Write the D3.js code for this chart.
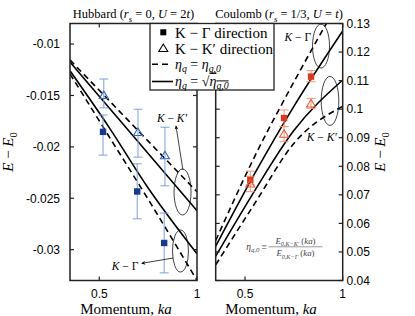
<!DOCTYPE html>
<html>
<head>
<meta charset="utf-8">
<script src="https://cdn.jsdelivr.net/npm/d3@7"></script>
<style>
  body { margin: 0; background: #fff; }
  svg { display: block; }
</style>
</head>
<body>
<svg id="chart" width="415" height="316"></svg>
<script>
// ─── Data ─────────────────────────────────────────────────────────────────
const kaGrid = [0.35, 0.55, 0.75, 1.0];

// Hubbard panel model curves
const hubKKdash  = [-0.01155, -0.01549, -0.01944, -0.02437];
const hubKKsolid = [-0.01175, -0.01620, -0.02065, -0.02621];
const hubKGsolid = [-0.0126, -0.0181, -0.0240, -0.0304];
const hubKGdash  = [-0.0129, -0.0190, -0.0251, -0.0330];

// Hubbard panel measured points
const hubKa   = [0.519, 0.694, 0.832];
const hubKG   = [-0.01854, -0.02434, -0.02935];
const hubKGlo = [-0.0208, -0.0270, -0.03226];
const hubKGhi = [-0.0169, -0.02165, -0.02644];
const hubKK   = [-0.0150, -0.0186, -0.02087];
const hubKKlo = [-0.0162, -0.0210, -0.02379];
const hubKKhi = [-0.0134, -0.01634, -0.01809];

// Coulomb panel model curves
const couKGdash  = [0.054, 0.0835, 0.1095, 0.140];
const couKGsolid = [0.052, 0.0775, 0.1010, 0.1274];
const couKKsolid = [0.0485, 0.0715, 0.0925, 0.1102];
const couKKdash  = [0.0455, 0.067, 0.088, 0.101];

// Coulomb panel measured points
const couKa   = [0.527, 0.700, 0.838];
const couKG   = [0.0752, 0.0969, 0.1114];
const couKGlo = [0.0735, 0.0939, 0.1096];
const couKGhi = [0.0783, 0.0997, 0.1135];
const couKK   = [0.0738, 0.0912, 0.1018];
const couKKlo = [0.0711, 0.0886, 0.1003];
const couKKhi = [0.0765, 0.0939, 0.1038];

// ticks
const xTicks      = [0.5, 1];
const xTickLabels = ["0.5", "1"];
const hubYTicks   = [-0.01, -0.015, -0.02, -0.025, -0.03];
const hubYLabels  = ["-0.01", "-0.015", "-0.02", "-0.025", "-0.03"];
const couYTicks   = [0.04, 0.05, 0.06, 0.07, 0.08, 0.09, 0.10, 0.11, 0.12, 0.13];
const couYLabels  = ["0.04", "0.05", "0.06", "0.07", "0.08", "0.09", "0.1", "0.11", "0.12", "0.13"];

// ─── Layout ───────────────────────────────────────────────────────────────
const svg = d3.select("#chart");
const plotTop = 23.5, plotBottom = 280.5;
const serif = "'Liberation Serif', 'DejaVu Serif', serif";
const sans  = "'Liberation Sans', Arial, sans-serif";

const xL = d3.scaleLinear().domain([0.35, 1]).range([70, 197]);
const xR = d3.scaleLinear().domain([0.35, 1]).range([215.7, 342.7]);
const yL = d3.scaleLinear().domain([-0.033, -0.008]).range([plotBottom, plotTop]);
const yR = d3.scaleLinear().domain([0.04, 0.13]).range([plotBottom, plotTop]);

// rich text helper: parts = [{t, i, sub}]
function rich(sel, parts, size) {
  let shift = 0;
  parts.forEach(p => {
    const target = p.sub ? size * 0.28 : 0;
    const ts = sel.append("tspan").text(p.t).attr("dy", target - shift);
    shift = target;
    if (p.sub) ts.attr("font-size", size * 0.7);
    if (p.i) ts.attr("font-style", "italic");
    if (p.over) ts.attr("text-decoration", "overline");
  });
  return sel;
}

const defs = svg.append("defs");
defs.append("marker")
    .attr("id", "arrow")
    .attr("viewBox", "0 0 10 10")
    .attr("refX", 9).attr("refY", 5)
    .attr("markerWidth", 6).attr("markerHeight", 5)
    .attr("orient", "auto")
  .append("path")
    .attr("d", "M0,0 L10,5 L0,10 L3,5 Z")
    .attr("fill", "#000");

function panel(id, x, y, lines, pts, col) {
  const g = svg.append("g");
  defs.append("clipPath").attr("id", "clip" + id)
    .append("rect")
      .attr("x", x.range()[0]).attr("y", plotTop)
      .attr("width", x.range()[1] - x.range()[0]).attr("height", plotBottom - plotTop);

  const plot = g.append("g").attr("clip-path", `url(#clip${id})`);

  const line = d3.line()
    .x((d, i) => x(kaGrid[i]))
    .y(d => y(d))
    .curve(d3.curveMonotoneX);

  lines.forEach(l => {
    plot.append("path")
      .attr("d", line(l.v))
      .attr("fill", "none")
      .attr("stroke", "#000")
      .attr("stroke-width", 1.6)
      .attr("stroke-dasharray", l.dash ? "6,4" : null);
  });

  // error bars
  pts.forEach(s => {
    s.ka.forEach((k, i) => {
      const cx = x(k + s.off);
      plot.append("line")
        .attr("x1", cx).attr("x2", cx)
        .attr("y1", y(s.lo[i])).attr("y2", y(s.hi[i]))
        .attr("stroke", col.err).attr("stroke-width", 1);
      [s.lo[i], s.hi[i]].forEach(v => {
        plot.append("line")
          .attr("x1", cx - 4.5).attr("x2", cx + 4.5)
          .attr("y1", y(v)).attr("y2", y(v))
          .attr("stroke", col.err).attr("stroke-width", 1);
      });
    });
  });

  // markers
  pts.forEach(s => {
    s.ka.forEach((k, i) => {
      const cx = x(k + s.off), cy = y(s.v[i]);
      if (s.shape === "square") {
        plot.append("rect")
          .attr("x", cx - 3.2).attr("y", cy - 3.2)
          .attr("width", 6.4).attr("height", 6.4)
          .attr("fill", col.sq);
      } else {
        plot.append("path")
          .attr("d", `M${cx},${cy - 4.5} L${cx + 4.5},${cy + 3} L${cx - 4.5},${cy + 3} Z`)
          .attr("fill", "none")
          .attr("stroke", col.tri)
          .attr("stroke-width", 1.1);
      }
    });
  });

  // frame with inward ticks
  const [x0, x1] = x.range();
  g.append("rect")
    .attr("x", x0).attr("y", plotTop)
    .attr("width", x1 - x0).attr("height", plotBottom - plotTop)
    .attr("fill", "none").attr("stroke", "#222").attr("stroke-width", 1.5);

  xTicks.forEach(t => {
    g.append("line").attr("x1", x(t)).attr("x2", x(t))
      .attr("y1", plotBottom).attr("y2", plotBottom - 4).attr("stroke", "#222").attr("stroke-width", 1.2);
    g.append("line").attr("x1", x(t)).attr("x2", x(t))
      .attr("y1", plotTop).attr("y2", plotTop + 4).attr("stroke", "#222").attr("stroke-width", 1.2);
  });
  return g;
}

const hubCol = { err: "#7f9fd8", sq: "#173a8e", tri: "#3c64b8" };
const couCol = { err: "#f2937b", sq: "#d63b1f", tri: "#e65a3d" };

panel("L", xL, yL, [
  { v: hubKKdash,  dash: true },
  { v: hubKKsolid, dash: false },
  { v: hubKGsolid, dash: false },
  { v: hubKGdash,  dash: true }
], [
  { shape: "square",   ka: hubKa, off: 0,     v: hubKG, lo: hubKGlo, hi: hubKGhi },
  { shape: "triangle", ka: hubKa, off: 0.004, v: hubKK, lo: hubKKlo, hi: hubKKhi }
], hubCol);

panel("R", xR, yR, [
  { v: couKGdash,  dash: true },
  { v: couKGsolid, dash: false },
  { v: couKKsolid, dash: false },
  { v: couKKdash,  dash: true }
], [
  { shape: "square",   ka: couKa, off: 0, v: couKG, lo: couKGlo, hi: couKGhi },
  { shape: "triangle", ka: couKa, off: 0, v: couKK, lo: couKKlo, hi: couKKhi }
], couCol);

// y ticks and labels
hubYTicks.forEach((t, i) => {
  [[70, 74], [197, 193]].forEach(([a, b]) => {
    svg.append("line").attr("x1", a).attr("x2", b)
      .attr("y1", yL(t)).attr("y2", yL(t)).attr("stroke", "#222").attr("stroke-width", 1.2);
  });
  svg.append("text")
    .attr("x", 60).attr("y", yL(t) + 4.3)
    .attr("text-anchor", "end")
    .attr("font-family", sans).attr("font-size", 12)
    .text(hubYLabels[i]);
});
couYTicks.forEach((t, i) => {
  [[215.7, 219.7], [342.7, 338.7]].forEach(([a, b]) => {
    svg.append("line").attr("x1", a).attr("x2", b)
      .attr("y1", yR(t)).attr("y2", yR(t)).attr("stroke", "#222").attr("stroke-width", 1.2);
  });
  svg.append("text")
    .attr("x", 346.5).attr("y", yR(t) + 4.3)
    .attr("font-family", sans).attr("font-size", 12)
    .text(couYLabels[i]);
});

// x tick labels
[xL, xR].forEach(x => {
  xTicks.forEach((t, i) => {
    svg.append("text")
      .attr("x", x(t)).attr("y", 298)
      .attr("text-anchor", "middle")
      .attr("font-family", sans).attr("font-size", 12)
      .text(xTickLabels[i]);
  });
});

// x axis labels
[126, 271].forEach(cx => {
  rich(svg.append("text")
    .attr("x", cx).attr("y", 314)
    .attr("text-anchor", "middle")
    .attr("font-family", serif).attr("font-size", 15),
    [{ t: "Momentum, " }, { t: "ka", i: true }], 15);
});

// y axis labels
[[13, 152], [385, 152]].forEach(([cx, cy]) => {
  rich(svg.append("text")
    .attr("transform", `translate(${cx},${cy}) rotate(-90)`)
    .attr("text-anchor", "middle")
    .attr("font-family", serif).attr("font-size", 15),
    [{ t: "E", i: true }, { t: " − " }, { t: "E", i: true }, { t: "0", sub: true }], 15);
});

// titles
rich(svg.append("text")
  .attr("x", 133.5).attr("y", 18)
  .attr("text-anchor", "middle")
  .attr("font-family", serif).attr("font-size", 12.5),
  [{ t: "Hubbard (" }, { t: "r", i: true }, { t: "s", i: true, sub: true },
   { t: " = 0, " }, { t: "U", i: true }, { t: " = 2" }, { t: "t", i: true }, { t: ")" }], 12.5);

rich(svg.append("text")
  .attr("x", 279).attr("y", 18)
  .attr("text-anchor", "middle")
  .attr("font-family", serif).attr("font-size", 12.5),
  [{ t: "Coulomb (" }, { t: "r", i: true }, { t: "s", i: true, sub: true },
   { t: " = 1/3, " }, { t: "U", i: true }, { t: " = " }, { t: "t", i: true }, { t: ")" }], 12.5);

// ─── Annotations (ellipses, arrows, labels) ───────────────────────────────
const ellipses = [
  { x: xL, y: yL, ka: 0.926, v: -0.02439, rx: 8.5, ry: 23 },
  { x: xL, y: yL, ka: 0.9155, v: -0.03013, rx: 8, ry: 21 },
  { x: xR, y: yR, ka: 0.889, v: 0.1221, rx: 8.5, ry: 22 },
  { x: xR, y: yR, ka: 0.935, v: 0.1029, rx: 8.8, ry: 24.5 }
];
ellipses.forEach(e => {
  svg.append("ellipse")
    .attr("cx", e.x(e.ka)).attr("cy", e.y(e.v))
    .attr("rx", e.rx).attr("ry", e.ry)
    .attr("fill", "none").attr("stroke", "#111").attr("stroke-width", 0.8);
});

const arrows = [
  { x: xL, y: yL, from: [0.928, -0.02225], to: [0.8925, -0.01797] },
  { x: xL, y: yL, from: [0.8787, -0.03081], to: [0.717, -0.03133] }
];
arrows.forEach(a => {
  svg.append("line")
    .attr("x1", a.x(a.from[0])).attr("y1", a.y(a.from[1]))
    .attr("x2", a.x(a.to[0])).attr("y2", a.y(a.to[1]))
    .attr("stroke", "#111").attr("stroke-width", 0.8)
    .attr("marker-end", "url(#arrow)");
});

const notes = [
  { x: xL, y: yL, ka: 0.872, v: -0.01758, anchor: "middle", prime: true },
  { x: xL, y: yL, ka: 0.700, v: -0.03198, anchor: "end",    prime: false },
  { x: xR, y: yR, ka: 0.838, v: 0.1237, anchor: "end",      prime: false },
  { x: xR, y: yR, ka: 0.816, v: 0.0888, anchor: "start",    prime: true }
];
notes.forEach(n => {
  rich(svg.append("text")
    .attr("x", n.x(n.ka)).attr("y", n.y(n.v))
    .attr("text-anchor", n.anchor)
    .attr("font-family", serif).attr("font-size", 11.5),
    [{ t: "K", i: true }, { t: " − " }, n.prime ? { t: "K′", i: true } : { t: "Γ" }], 11.5);
});

// formula
const fx = xR(0.62), fy = yR(0.0518);
rich(svg.append("text")
  .attr("x", fx - 1.5).attr("y", fy + 3)
  .attr("text-anchor", "end")
  .attr("font-family", serif).attr("font-size", 9.5).attr("fill", "#444"),
  [{ t: "η", i: true }, { t: "q,0", i: true, sub: true }, { t: " ≡" }], 9.5);
svg.append("line")
  .attr("x1", fx).attr("x2", fx + 54)
  .attr("y1", fy).attr("y2", fy)
  .attr("stroke", "#555").attr("stroke-width", 0.6);
rich(svg.append("text")
  .attr("x", fx + 27).attr("y", fy - 3)
  .attr("text-anchor", "middle")
  .attr("font-family", serif).attr("font-size", 8.8).attr("fill", "#444"),
  [{ t: "E", i: true }, { t: "0,K−K′", i: true, sub: true }, { t: " (" }, { t: "ka", i: true }, { t: ")" }], 8.8);
rich(svg.append("text")
  .attr("x", fx + 27).attr("y", fy + 9.5)
  .attr("text-anchor", "middle")
  .attr("font-family", serif).attr("font-size", 8.8).attr("fill", "#444"),
  [{ t: "E", i: true }, { t: "0,K−Γ", i: true, sub: true }, { t: " (" }, { t: "ka", i: true }, { t: ")" }], 8.8);

// ─── Legend ───────────────────────────────────────────────────────────────
const lg = svg.append("g");
lg.append("rect")
  .attr("x", 150).attr("y", plotTop)
  .attr("width", 124).attr("height", 66.5)
  .attr("fill", "#fff").attr("stroke", "#222").attr("stroke-width", 1.3);

lg.append("rect").attr("x", 160.3).attr("y", 29.3).attr("width", 6).attr("height", 6).attr("fill", "#000");
lg.append("path").attr("d", "M163.3,44 L167.8,51.5 L158.8,51.5 Z")
  .attr("fill", "none").attr("stroke", "#000").attr("stroke-width", 1.1);
lg.append("line").attr("x1", 152).attr("x2", 172).attr("y1", 64.3).attr("y2", 64.3)
  .attr("stroke", "#000").attr("stroke-width", 1.6).attr("stroke-dasharray", "6,4");
lg.append("line").attr("x1", 152).attr("x2", 173).attr("y1", 81.5).attr("y2", 81.5)
  .attr("stroke", "#000").attr("stroke-width", 1.6);

const legTxt = (y, parts, size) => rich(lg.append("text")
  .attr("x", 175).attr("y", y)
  .attr("font-family", serif).attr("font-size", size), parts, size);

legTxt(37.5, [{ t: "K − Γ direction" }], 15);
legTxt(53.5, [{ t: "K − K′ direction" }], 15);
legTxt(68.5, [{ t: "η", i: true }, { t: "q", i: true, sub: true }, { t: " = " },
              { t: "η", i: true }, { t: "q,0", i: true, sub: true }], 14);
legTxt(85.5, [{ t: "η", i: true }, { t: "q", i: true, sub: true }, { t: " = √" },
              { t: "η", i: true, over: true }, { t: "q,0", i: true, sub: true, over: true }], 14);
</script>
</body>
</html>
